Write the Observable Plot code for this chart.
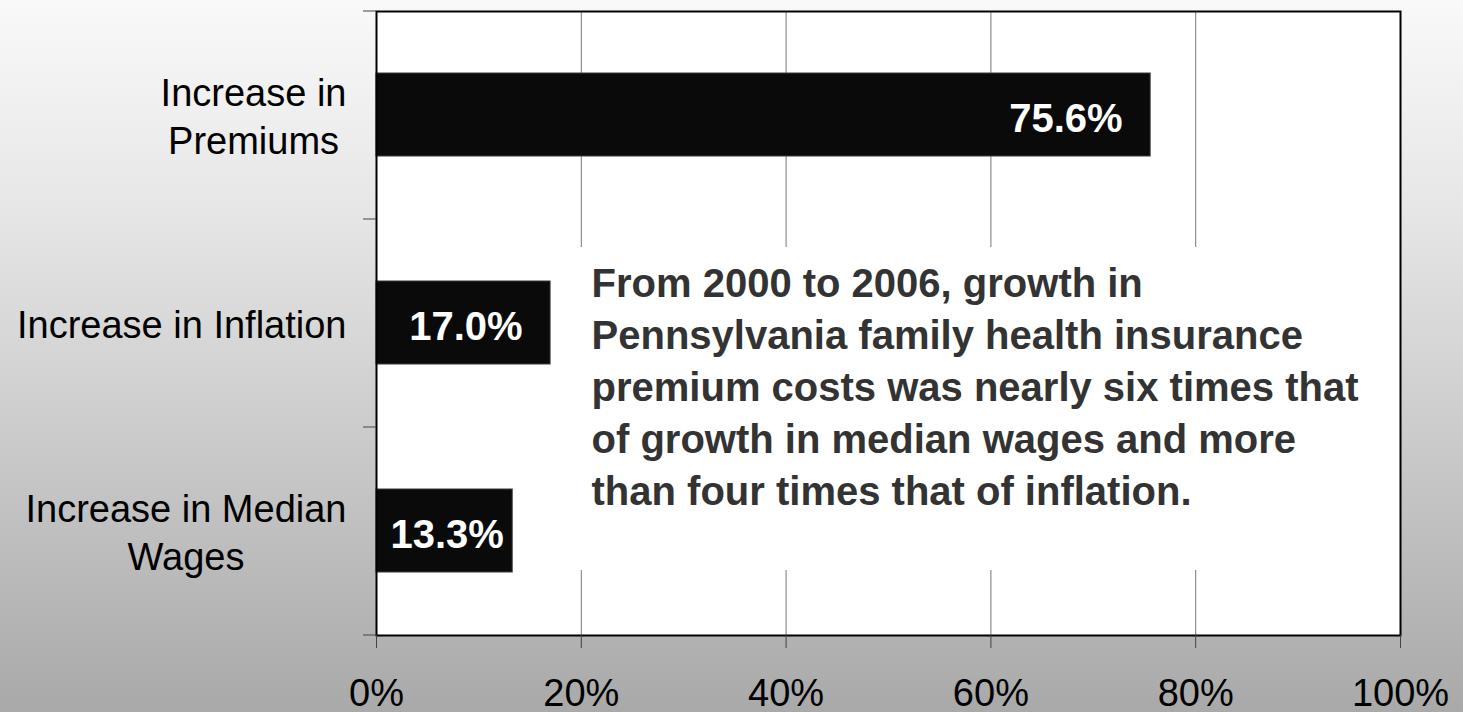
<!DOCTYPE html>
<html><head><meta charset="utf-8">
<script src="https://cdn.jsdelivr.net/npm/d3@7"></script>
<script src="https://cdn.jsdelivr.net/npm/@observablehq/plot@0.6"></script>
<style>html,body{margin:0;padding:0;background:#fff;} #chart svg{display:block;}</style>
</head><body><div id="chart"></div>
<script>
// ---- data ----
const categories = ["Increase in\nPremiums", "Increase in Inflation", "Increase in Median\nWages"];
const values = [75.6, 17.0, 13.3];
const valueLabels = ["75.6%", "17.0%", "13.3%"];
const xTicks = [0, 20, 40, 60, 80, 100];
const xTickLabels = ["0%", "20%", "40%", "60%", "80%", "100%"];
const annotation = "From 2000 to 2006, growth in\nPennsylvania family health insurance\npremium costs was nearly six times that\nof growth in median wages and more\nthan four times that of inflation.";

const data = categories.map((c, i) => ({category: c, value: values[i], label: valueLabels[i]}));

// ---- layout ----
const W = 1463, H = 712, mL = 376, mR = 63, mT = 11, mB = 77;
const FONT = "'Liberation Sans', Arial, Helvetica, sans-serif";
const ctx = document.createElement("canvas").getContext("2d");
function textWidth(t, font) { ctx.font = font; return Math.max(...t.split("\n").map(s => ctx.measureText(s).width)); }

const plotW = W - mL - mR;
const valFont = `bold 40px ${FONT}`;
const fits = d => d.value / 100 * plotW >= textWidth(d.label, valFont) + 28 + 14;

const yTickMark = (index, scales, vals, dims) => {
  const g = d3.create("svg:g");
  const n = categories.length;
  const top = dims.marginTop, bottom = dims.height - dims.marginBottom;
  const step = (bottom - top) / n;
  for (let k = 0; k <= n; k++) {
    const y = top + k * step;
    g.append("line").attr("x1", dims.marginLeft - 13).attr("x2", dims.marginLeft)
      .attr("y1", y).attr("y2", y).attr("stroke", "#444").attr("stroke-width", 1);
  }
  return g.node();
};

const annoBox = (index, scales, vals, dims) => {
  const top = dims.marginTop, bottom = dims.height - dims.marginBottom;
  const step = (bottom - top) / categories.length;
  const x1 = scales.x(18.3), x2 = scales.x(97.5);
  const y1 = top + step + 28, y2 = top + 3 * step - 65;
  const r = d3.create("svg:rect").attr("x", x1).attr("y", y1)
    .attr("width", x2 - x1).attr("height", y2 - y1).attr("fill", "white");
  return r.node();
};

const plot = Plot.plot({
  width: W, height: H,
  marginLeft: mL, marginRight: mR, marginTop: mT, marginBottom: mB,
  style: {background: "linear-gradient(to bottom, #f9f9f9 0%, #e6e6e6 30%, #a9a9a9 100%)", fontFamily: FONT, color: "#000", overflow: "visible"},
  x: {domain: [0, 100]},
  y: {domain: categories, paddingInner: 0.6, paddingOuter: 0.3, axis: null},
  marks: [
    Plot.frame({fill: "white", stroke: "none"}),
    Plot.ruleX(xTicks.slice(1, -1), {stroke: "#777", strokeWidth: 1}),
    annoBox,
    Plot.barX(data, {x: "value", y: "category", fill: "#0a0a0a", stroke: "#3a3a3a", strokeWidth: 1}),
    Plot.frame({stroke: "#000", strokeWidth: 2}),
    yTickMark,
    Plot.axisX({
      ticks: xTicks, tickFormat: d => xTickLabels[xTicks.indexOf(d)],
      tickSize: 13, tickPadding: 31, fontSize: 38, stroke: "#444", fill: "#000", label: null
    }),
    ...categories.map(c => Plot.text([c], {
      x: () => 0, y: d => d, text: d => d,
      textAnchor: "middle", dx: -(30 + textWidth(c, `38px ${FONT}`) / 2),
      lineHeight: 1.263, fontSize: 38, fill: "#000"
    })),
    Plot.text(data.filter(fits), {
      x: "value", y: "category", text: "label", textAnchor: "end", dx: -28, dy: 4,
      fill: "white", fontSize: 40, fontWeight: "bold"
    }),
    Plot.text(data.filter(d => !fits(d)), {
      x: () => 0, y: "category", text: "label", textAnchor: "start", dx: 14, dy: 4,
      fill: "white", fontSize: 40, fontWeight: "bold"
    }),
    Plot.text([annotation], {
      x: () => 21, y: () => categories[1], text: d => d, textAnchor: "start",
      dy: 61, lineHeight: 1.3, fontSize: 40, fontWeight: "bold", fill: "#333"
    })
  ]
});
document.getElementById("chart").appendChild(plot);
</script>
</body></html>
